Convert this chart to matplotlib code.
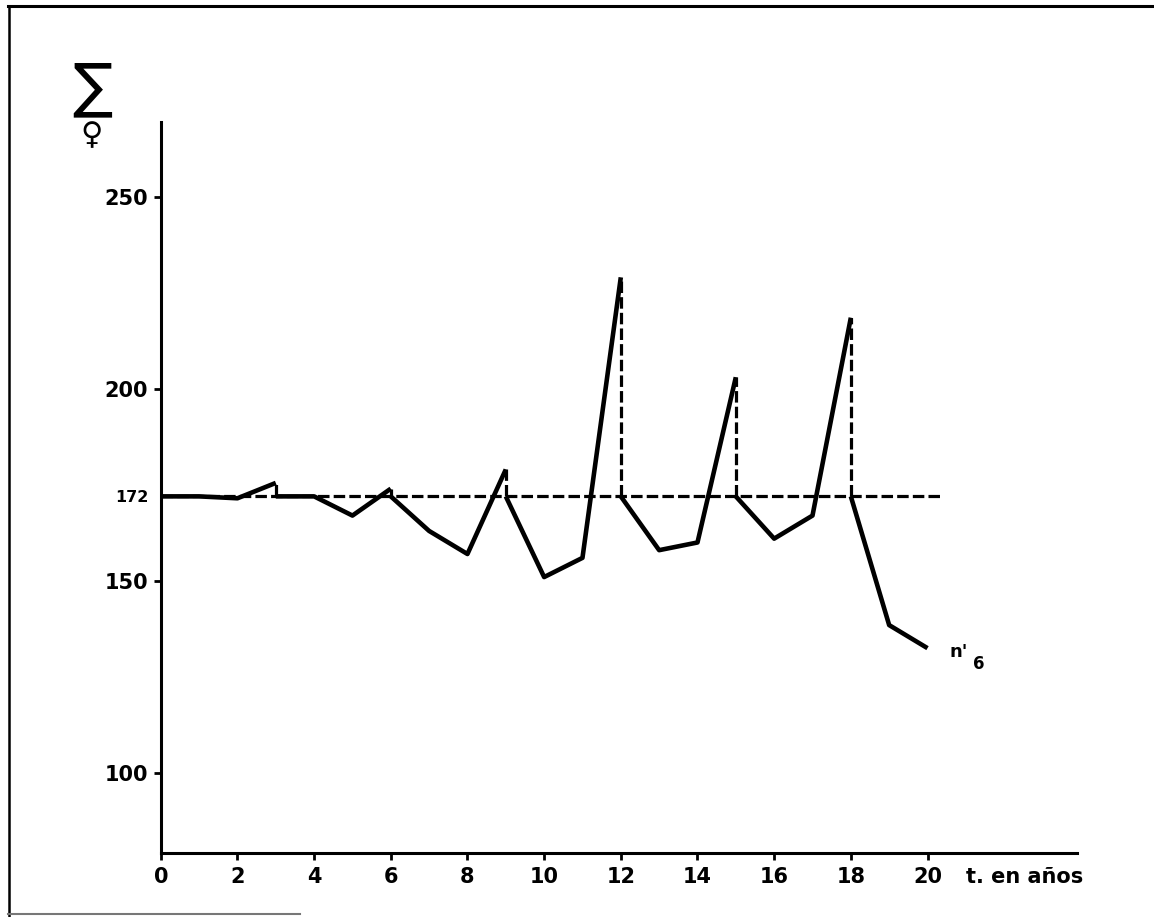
import matplotlib
matplotlib.use('Agg')
import matplotlib.pyplot as plt
from matplotlib.lines import Line2D

# each cycle restarts at the reference level (172) every 3 years
years = [[0, 1, 2, 3], [3, 4, 5, 6], [6, 7, 8, 9], [9, 10, 11, 12],
         [12, 13, 14, 15], [15, 16, 17, 18], [18, 19, 20]]
females = [[172, 172, 171.5, 175.5], [172, 172, 167, 174], [172, 163, 157, 179],
           [172, 151, 156, 229], [172, 158, 160, 203], [172, 161, 167, 218.5],
           [172, 138.5, 132.5]]
baseline = 172
baseline_end = 20.4
x_ticks = [0, 2, 4, 6, 8, 10, 12, 14, 16, 18, 20]
y_ticks = [100, 150, 172, 200, 250]
y_tick_labels = ['100', '150', '172', '200', '250']
curve_label = "n'"
curve_sub = '6'

plt.rc('font', family='DejaVu Sans')


def main():
    fig = plt.figure(figsize=(11.54, 9.17), dpi=100)
    ax = fig.add_axes([0.1393, 0.0698, 0.794, 0.7975])

    dash = (0, (3.6, 1.3))
    ax.plot([0, baseline_end], [baseline, baseline], color='black', lw=2.3,
            linestyle=dash, zorder=1)
    for t, v in zip(years, females):
        ax.plot(t, v, color='black', lw=3.3, solid_joinstyle='round',
                solid_capstyle='butt', zorder=3)
    for t, v in zip(years[:-1], females[:-1]):
        ax.vlines(t[-1], baseline, v[-1], color='black', lw=2.3,
                  linestyles=dash, zorder=2)

    ax.text(20.58, 131.5, curve_label, fontsize=13, fontweight='bold',
            ha='left', va='center')
    ax.text(21.33, 128.3, curve_sub, fontsize=12, fontweight='bold',
            ha='center', va='center')

    ax.set_xlim(0, 23.9)
    ax.set_ylim(79.2, 269.5)
    ax.spines['top'].set_visible(False)
    ax.spines['right'].set_visible(False)
    ax.spines['left'].set_linewidth(2.2)
    ax.spines['bottom'].set_linewidth(2.2)

    ax.set_xticks(x_ticks)
    ax.set_xticklabels([str(x) for x in x_ticks], fontsize=15, fontweight='bold')
    ax.set_yticks(y_ticks)
    ax.set_yticklabels(y_tick_labels, fontsize=15, fontweight='bold')
    ax.tick_params(axis='x', direction='out', length=5, width=2, pad=5)
    ax.tick_params(axis='y', direction='out', length=5, width=2, pad=4)
    ax.get_yticklabels()[2].set_fontsize(11.5)
    ax.yaxis.get_major_ticks()[2].tick1line.set_visible(False)

    ax.annotate('t. en años', xy=(21.0, 0), xycoords=('data', 'axes fraction'),
                xytext=(0, -17.5), textcoords='offset points', ha='left', va='center',
                fontsize=15, fontweight='bold')

    fig.text(0.0797, 0.903, '\u2211', fontsize=43, family=['DejaVu Sans'],
             ha='center', va='center')
    fig.text(0.0797, 0.852, '\u2640', fontsize=22, fontweight='bold',
             ha='center', va='center')

    # scanned page border
    fig.add_artist(Line2D([0.007, 1.0], [0.993, 0.993], color='black', lw=2.2))
    fig.add_artist(Line2D([0.0075, 0.0075], [0.0, 0.993], color='black', lw=1.8))
    fig.add_artist(Line2D([0.007, 0.26], [0.003, 0.003], color='#777777', lw=1.5))

    plt.savefig('out.png', dpi=100)


if __name__ == '__main__':
    main()
